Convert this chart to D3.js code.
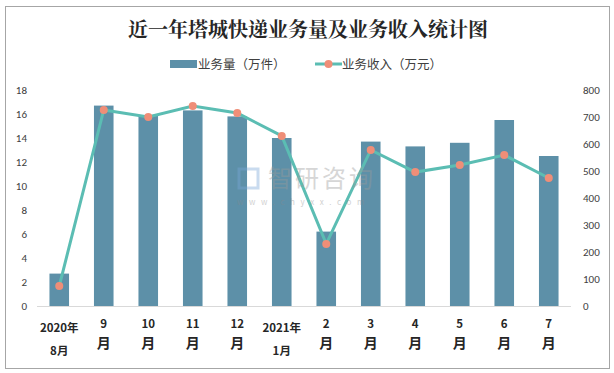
<!DOCTYPE html>
<html>
<head>
<meta charset="utf-8">
<script src="https://cdn.jsdelivr.net/npm/d3@7"></script>
<style>
    body { margin: 0; background: #fff; }
    text { font-family: "Noto Sans CJK SC", "Microsoft YaHei", sans-serif; }
</style>
</head>
<body>
<div id="picture"></div>
<script>
var months = ["2020年|8月", "9|月", "10|月", "11|月", "12|月", "2021年|1月",
              "2|月", "3|月", "4|月", "5|月", "6|月", "7|月"];
var volume = [2.7, 16.7, 15.9, 16.3, 15.8, 14.0, 6.2, 13.7, 13.3, 13.6, 15.5, 12.5];
var revenue = [74, 726, 700, 741, 715, 630, 230, 578, 496, 522, 559, 474];
var left_ticks = [0, 2, 4, 6, 8, 10, 12, 14, 16, 18];
var right_ticks = [0, 100, 200, 300, 400, 500, 600, 700, 800];

function draw() {
    "use strict";

    var width = 614, height = 373;
    var left = 37, right = 571, top = 90, bottom = 306;
    var bar_color = "#5d90a8", line_color = "#5bbdb3", dot_color = "#ef8e78";

    var svg = d3.select("#picture")
        .append("svg")
        .attr("width", width)
        .attr("height", height);

    svg.append("rect")
        .attr("x", 5.5).attr("y", 6.5)
        .attr("width", 604).attr("height", 362)
        .attr("fill", "#fff")
        .attr("stroke", "#a6a6a6");

    var x_scale = d3.scaleBand().domain(months).range([left, right]).paddingInner(0.56).paddingOuter(0.28);
    var y_left = d3.scaleLinear().domain([0, 18]).range([bottom, top]);
    var y_right = d3.scaleLinear().domain([0, 800]).range([bottom, top]);

    // title
    svg.append("text")
        .text("近一年塔城快递业务量及业务收入统计图")
        .attr("x", 308).attr("y", 37)
        .attr("text-anchor", "middle")
        .attr("font-size", 20)
        .attr("font-weight", "bold")
        .style("font-family", "'Noto Serif CJK SC', 'Noto Sans CJK SC', serif")
        .attr("fill", "#262626");

    // legend
    var legend = svg.append("g").attr("font-size", 12.5).attr("fill", "#404040");
    legend.append("rect").attr("x", 170).attr("y", 60).attr("width", 27).attr("height", 8).attr("fill", bar_color);
    legend.append("text").text("业务量（万件）").attr("x", 198).attr("y", 68.5);
    legend.append("line").attr("x1", 315).attr("x2", 342).attr("y1", 64).attr("y2", 64)
        .attr("stroke", line_color).attr("stroke-width", 3);
    legend.append("circle").attr("cx", 328.5).attr("cy", 64).attr("r", 4).attr("fill", dot_color);
    legend.append("text").text("业务收入（万元）").attr("x", 342).attr("y", 68.5);

    // axes
    var axis_left = d3.axisLeft(y_left).tickValues(left_ticks).tickSize(0).tickPadding(0);
    svg.append("g")
        .attr("class", "y_axis")
        .attr("transform", "translate(27, 0)")
        .call(axis_left)
        .call(function (g) { g.select(".domain").remove(); });

    var axis_right = d3.axisRight(y_right).tickValues(right_ticks).tickSize(0).tickPadding(0);
    svg.append("g")
        .attr("class", "y_axis")
        .attr("transform", "translate(583, 0)")
        .call(axis_right)
        .call(function (g) { g.select(".domain").remove(); });

    svg.selectAll(".y_axis text")
        .attr("font-size", 11)
        .attr("fill", "#404040")
        .style("font-family", "Calibri, 'Liberation Sans', sans-serif");

    // bars
    svg.append("g")
        .selectAll("rect")
        .data(volume)
        .enter()
        .append("rect")
        .attr("x", function (d, i) { return x_scale(months[i]); })
        .attr("y", function (d) { return y_left(d); })
        .attr("width", x_scale.bandwidth())
        .attr("height", function (d) { return bottom - y_left(d); })
        .attr("fill", bar_color);

    // baseline
    svg.append("line")
        .attr("x1", left).attr("x2", right)
        .attr("y1", bottom + 0.5).attr("y2", bottom + 0.5)
        .attr("stroke", "#d9d9d9");

    // x labels
    var labels = svg.append("g")
        .attr("font-size", 11.5)
        .attr("font-weight", "bold")
        .attr("fill", "#262626")
        .attr("text-anchor", "middle");
    months.forEach(function (m, i) {
        var parts = m.split("|");
        var cx = x_scale(m) + x_scale.bandwidth() / 2;
        var long = parts[0].length > 2;
        labels.append("text").text(parts[0]).attr("x", cx).attr("y", long ? 332 : 328);
        labels.append("text").text(parts[1]).attr("x", cx).attr("y", long ? 355 : 348)
            .attr("font-size", long ? 11.5 : 14);
    });

    // line
    var line = d3.line()
        .x(function (d, i) { return x_scale(months[i]) + x_scale.bandwidth() / 2; })
        .y(function (d) { return y_right(d); });

    svg.append("path")
        .attr("d", line(revenue))
        .attr("fill", "none")
        .attr("stroke", line_color)
        .attr("stroke-width", 3);

    svg.append("g")
        .selectAll("circle")
        .data(revenue)
        .enter()
        .append("circle")
        .attr("cx", function (d, i) { return x_scale(months[i]) + x_scale.bandwidth() / 2; })
        .attr("cy", function (d) { return y_right(d); })
        .attr("r", 4)
        .attr("fill", dot_color);

    // watermark, on top of the marks
    var wm = svg.append("g").attr("opacity", 0.4);
    wm.append("text").text("智研咨询").attr("x", 268).attr("y", 187)
        .attr("font-size", 24).attr("fill", "#9a9a9a").attr("letter-spacing", 3);
    wm.append("text").text("www.chyxx.com").attr("x", 237).attr("y", 205)
        .attr("font-size", 8).attr("fill", "#8a8a8a").attr("letter-spacing", 5.6);
    wm.append("rect").attr("x", 239).attr("y", 169).attr("width", 19).attr("height", 19)
        .attr("fill", "none").attr("stroke", "#7aa7d8").attr("stroke-width", 3);
}

draw();
</script>
</body>
</html>
